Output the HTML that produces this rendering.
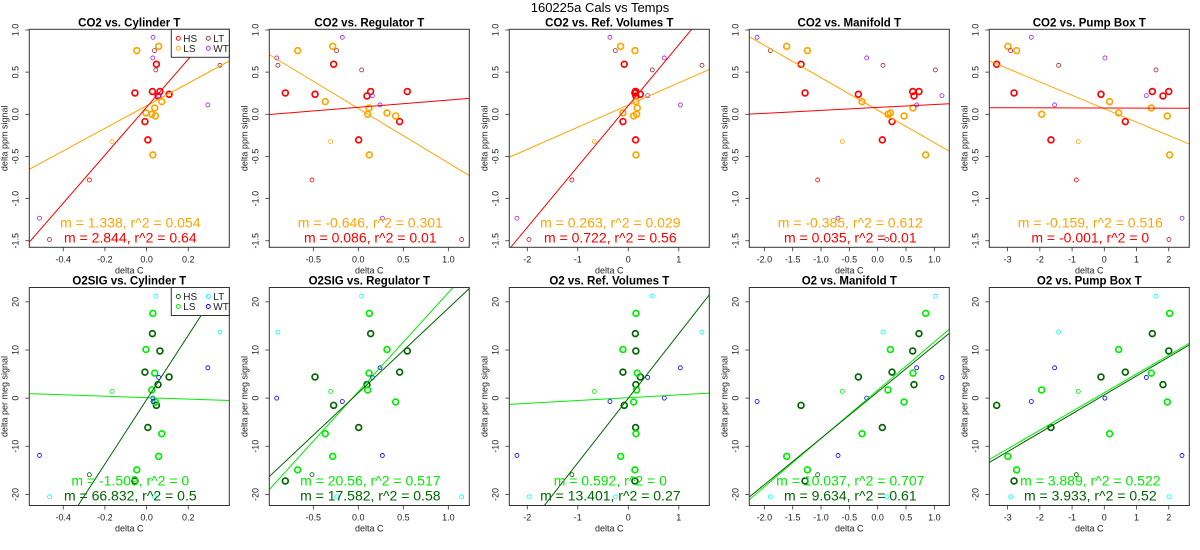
<!DOCTYPE html>
<html><head><meta charset="utf-8"><style>
html,body{margin:0;padding:0;background:#fff;width:1200px;height:550px;overflow:hidden}
svg{display:block;font-family:"Liberation Sans",sans-serif}
</style></head><body>
<svg id="chart" width="1200" height="550" xmlns="http://www.w3.org/2000/svg">
<rect width="1200" height="550" fill="#fff"/>
<text x="600" y="12" text-anchor="middle" font-size="13" fill="#000">160225a   Cals vs Temps</text>
</svg>
<script>
// ---- data ----
const groups = ["HS","HS","HS","HS","HS","HS","HS","HS","HS","LS","LS","LS","LS","LS","LS","LS","LS","LS","LT","LT","LT","LT","WT","WT","WT","WT","WT"];
const thin =   [0,0,0,0,0,0,0,0,1, 0,0,0,0,0,0,0,0,1, 1,1,1,1, 1,1,1,1,1];
const co2Values = [0.253,0.27,0.27,0.593,0.217,0.237,-0.087,-0.304,-0.779, 0.755,0.806,0.016,0.0,0.075,-0.02,0.15,-0.482,-0.324, 0.755,0.526,0.581,-1.486, 0.913,0.668,0.221,0.111,-1.233];
const o2Values = [-17.2,13.4,9.8,-1.5,2.8,4.4,5.4,-6.1,-15.9, -14.9,-12.1,10.1,1.7,5.2,-0.8,-7.4,17.6,1.4, -20.5,21.2,13.7,-20.5, -0.7,0.0,4.3,6.3,-11.9];
const cylinderT = [-0.056,0.028,0.064,0.047,0.055,0.108,-0.008,0.006,-0.275, -0.047,0.058,-0.003,0.025,0.039,0.042,0.073,0.030,-0.166, 0.038,0.044,0.352,-0.466, 0.031,0.03,0.058,0.294,-0.514];
const regulatorT = [-0.811,0.137,0.544,-0.274,0.096,-0.481,0.459,0.004,-0.515, -0.674,-0.285,0.319,0.104,0.119,0.415,-0.367,0.122,-0.307, -0.241,0.037,-0.893,1.148, -0.178,-0.907,0.156,0.241,0.267];
const refVolumesT = [0.13,0.14,0.15,-0.08,0.15,0.238,-0.106,0.145,-1.116, 0.132,-0.152,-0.106,0.165,0.178,0.106,0.152,0.152,-0.673, -0.257,0.475,1.459,-1.967, -0.363,0.713,0.383,1.03,-2.205];
const manifoldT = [-1.282,0.729,0.618,-1.353,0.641,-0.341,0.253,0.082,-1.059, -1.241,-1.606,0.224,0.182,0.624,0.465,-0.276,0.847,-0.624, -1.894,1.018,0.094,0.16, -2.129,-0.194,1.135,0.688,-0.7];
const pumpBoxT = [-2.8,1.49,2.0,-3.34,1.82,-0.103,0.652,-1.655,-0.869, -2.72,-2.99,0.445,-1.944,1.458,1.954,0.165,2.027,-0.807, -2.906,1.603,-1.417,2.006, -2.265,0.02,1.303,-1.541,2.41];
const topTitles = ["CO2 vs. Cylinder T","CO2 vs. Regulator T","CO2 vs. Ref. Volumes T","CO2 vs. Manifold T","CO2 vs. Pump Box T"];
const botTitles = ["O2SIG vs. Cylinder T","O2SIG vs. Regulator T","O2 vs. Ref. Volumes T","O2 vs. Manifold T","O2 vs. Pump Box T"];
const topSlopeLS = [1.338,-0.646,0.263,-0.385,-0.159];
const topSlopeHS = [2.844,0.086,0.722,0.035,-0.001];
const botSlopeLS = [-1.509,20.56,0.592,10.037,3.889];
const botSlopeHS = [66.832,17.582,13.401,9.634,3.933];
const topR2LS = ["0.054","0.301","0.029","0.612","0.516"];
const topR2HS = ["0.64","0.01","0.56","0.01","0"];
const botR2LS = ["0","0.517","0","0.707","0.522"];
const botR2HS = ["0.5","0.58","0.27","0.61","0.52"];
const xTicks = [[-0.4,-0.2,0.0,0.2],[-0.5,0.0,0.5,1.0],[-2,-1,0,1],[-2.0,-1.5,-1.0,-0.5,0.0,0.5,1.0],[-3,-2,-1,0,1,2]];
const xTickLabels = [["-0.4","-0.2","0.0","0.2"],["-0.5","0.0","0.5","1.0"],["-2","-1","0","1"],["-2.0","-1.5","-1.0","-0.5","0.0","0.5","1.0"],["-3","-2","-1","0","1","2"]];
const xDomains = [[-0.563,0.397],[-0.989,1.233],[-2.356,1.604],[-2.266,1.264],[-3.568,2.637]];
const yTicksTop = [-1.5,-1.0,-0.5,0.0,0.5,1.0];
const yTickLabelsTop = ["-1.5","-1.0","-0.5","0.0","0.5","1.0"];
const yTicksBot = [-20,-10,0,10,20];
const yTickLabelsBot = ["-20","-10","0","10","20"];
const yDomainTop = [-1.578,1.008];
const yDomainBot = [-22.3,22.98];

// ---- drawing ----
const NS = "http://www.w3.org/2000/svg";
const svg = document.getElementById("chart");
function mk(tag, attrs, parent){ const e=document.createElementNS(NS,tag); for(const k in attrs) e.setAttribute(k,attrs[k]); (parent||svg).appendChild(e); return e; }
const xCols = [cylinderT,regulatorT,refVolumesT,manifoldT,pumpBoxT];
const topColors = {HS:"#ff0000",LS:"#ffa500",LT:"#a52a2a",WT:"#a020f0"};
const botColors = {HS:"#006400",LS:"#00ee00",LT:"#00ffff",WT:"#0000ff"};
const W=200, H=218;

function panel(row,col){
  const left = 29.3+240*col, top = row===0?29.3:287.5;
  const xd = xDomains[col], yd = row===0?yDomainTop:yDomainBot;
  const sx = v => left + (v-xd[0])/(xd[1]-xd[0])*W;
  const sy = v => top + H - (v-yd[0])/(yd[1]-yd[0])*H;
  const ys = row===0?co2Values:o2Values, xs = xCols[col];
  const colors = row===0?topColors:botColors;
  const g = mk("g",{});
  
  
  const cid = "clip"+row+col;
  const cp = mk("clipPath",{id:cid},g); mk("rect",{x:left,y:top,width:W,height:H},cp);
  const t = mk("text",{x:left+W/2,y:top-3,"text-anchor":"middle","font-size":11.5,"font-weight":"bold"},g);
  t.textContent = (row===0?topTitles:botTitles)[col];
  
  
  xTicks[col].forEach((v,i)=>{
    const x=sx(v);
    mk("line",{x1:x,x2:x,y1:top+H,y2:top+H+4,stroke:"#333","stroke-width":0.8},g);
    const tl=mk("text",{x:x,y:top+H+15,"text-anchor":"middle","font-size":9,fill:"#222"},g);
    tl.textContent=xTickLabels[col][i];
    
    
  });
  const xl=mk("text",{x:left+W/2,y:top+H+26,"text-anchor":"middle","font-size":9,fill:"#222"},g);
  xl.textContent="delta C";
  
  
  const yt = row===0?yTicksTop:yTicksBot, ytl = row===0?yTickLabelsTop:yTickLabelsBot;
  yt.forEach((v,i)=>{
    const y=sy(v);
    mk("line",{x1:left-4,x2:left,y1:y,y2:y,stroke:"#333","stroke-width":0.8},g);
    const tl=mk("text",{x:left-11,y:y,"text-anchor":"middle","font-size":9,fill:"#222",transform:`rotate(-90 ${left-11} ${y})`},g);
    tl.textContent=ytl[i];
    
    
  });
  const yl=mk("text",{x:left-22,y:top+H/2,"text-anchor":"middle","font-size":9,fill:"#222",transform:`rotate(-90 ${left-22} ${top+H/2})`},g);
  yl.textContent = row===0?"delta ppm signal":"delta per meg signal";
  
  
  for(let i=0;i<xs.length;i++){
    const c=mk("circle",{cx:sx(xs[i]),cy:sy(ys[i]),r:thin[i]?2:2.9,fill:"none",stroke:colors[groups[i]],"stroke-width":thin[i]?0.8:1.7,"clip-path":`url(#${cid})`},g);
    
    
  }
  const slopes = row===0?[topSlopeLS[col],topSlopeHS[col]]:[botSlopeLS[col],botSlopeHS[col]];
  ["LS","HS"].forEach((grp,k)=>{
    let mx=0,my=0,n=0;
    for(let i=0;i<xs.length;i++) if(groups[i]===grp){mx+=xs[i];my+=ys[i];n++;}
    mx/=n; my/=n;
    const m=slopes[k], b=my-m*mx;
    const ln=mk("line",{x1:sx(xd[0]),y1:sy(m*xd[0]+b),x2:sx(xd[1]),y2:sy(m*xd[1]+b),stroke:colors[grp],"stroke-width":1,"clip-path":`url(#${cid})`},g);
    
    
  });
  const r2 = row===0?[topR2LS[col],topR2HS[col]]:[botR2LS[col],botR2HS[col]];
  ["LS","HS"].forEach((grp,k)=>{
    const st=mk("text",{x:left+W/2+1,y:top+H-20+15*k,"text-anchor":"middle","font-size":14,fill:colors[grp]},g);
    st.textContent=`m = ${slopes[k]}, r^2 = ${r2[k]}`;
    
    
  });
  mk("rect",{x:left,y:top,width:W,height:H,fill:"none",stroke:"#333","stroke-width":1},g);
  if(col===0){
    const lg=mk("g",{},g);
    
    
    mk("rect",{x:left+W-58,y:top,width:58,height:28,fill:"#fff",stroke:"#333","stroke-width":1},lg);
    [["HS",0,0],["LT",1,0],["LS",0,1],["WT",1,1]].forEach(([nm,cx,cy])=>{
      const ex=left+W-51+cx*30, ey=top+9+cy*10;
      const e=mk("g",{},lg);
      
      
      mk("circle",{cx:ex,cy:ey,r:2,fill:"none",stroke:colors[nm],"stroke-width":0.9},e);
      const tt=mk("text",{x:ex+5,y:ey+3.5,"font-size":10,fill:"#222"},e);
      tt.textContent=nm;
    });
  }
}
for(let r=0;r<2;r++) for(let c=0;c<5;c++) panel(r,c);
</script>
</body></html>
